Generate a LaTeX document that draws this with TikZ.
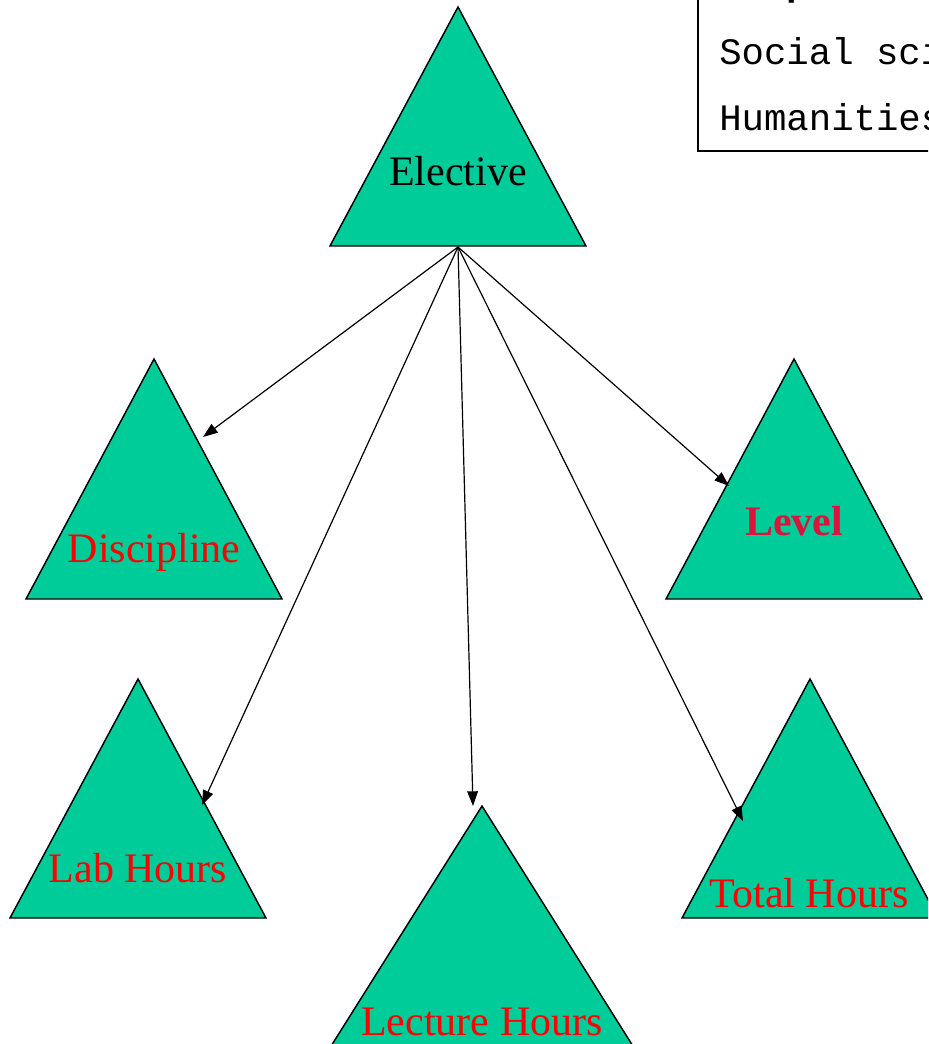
\documentclass[tikz,border=0pt]{standalone}
\usepackage{fontspec}
\setmainfont{Liberation Serif}
\newfontfamily\monofont{Liberation Mono}
\usetikzlibrary{arrows.meta}
\definecolor{tri}{HTML}{00CC99}
\definecolor{lvl}{HTML}{DC143C}
\tikzset{
  tribox/.style={fill=tri,draw=black,line width=1.1pt,line join=miter},
  lbl/.style={anchor=base,inner sep=0pt,font=\fontsize{31.5}{36}\selectfont},
  link/.style={draw=black,line width=0.9pt,-{Triangle[length=11pt,width=8pt]}}
}
\begin{document}
\begin{tikzpicture}[x=0.75pt,y=-0.75pt]
\useasboundingbox (0,0) rectangle (928,1044);
\clip (0,0) rectangle (928,1044);
\fill[white] (0,0) rectangle (928,1044);

% legend box at the top right
\draw[line width=1.1pt] (698,-20) -- (698,151) -- (960,151);
\node[anchor=base west,inner sep=0pt,font=\monofont\bfseries\fontsize{28}{32}\selectfont] (ttl) at (786,-4) {p};
\node[anchor=base west,inner sep=0pt,font=\monofont\fontsize{28}{32}\selectfont] (s1) at (719,65) {Social sciences};
\node[anchor=base west,inner sep=0pt,font=\monofont\fontsize{28}{32}\selectfont] (s2) at (719,131) {Humanities};

% triangles
\path[tribox] (458,7) -- (586,246) -- (330,246) -- cycle;
\path[tribox] (154,359) -- (282,599) -- (26,599) -- cycle;
\path[tribox] (794,359) -- (922,599) -- (666,599) -- cycle;
\path[tribox] (138,679) -- (266,918) -- (10,918) -- cycle;
\path[tribox] (810,679) -- (938,918) -- (682,918) -- cycle;
\path[tribox] (482,806) -- (648,1070) -- (316,1070) -- cycle;

% labels
\node[lbl] (elective) at (458,186) {Elective};
\node[lbl,text=red] (discipline) at (154,562) {Discipline};
\node[lbl,text=lvl,font=\fontsize{31.5}{36}\selectfont\bfseries] (level) at (794,535) {Level};
\node[lbl,text=red] (lab) at (138,882) {Lab Hours};
\node[lbl,text=red] (total) at (809,907) {Total Hours};
\node[lbl,text=red] (lecture) at (482,1035) {Lecture Hours};

% connector ends
\coordinate (src) at (458,247);
\coordinate (dDisc) at (203,437);
\coordinate (dLab) at (202,805);
\coordinate (dLect) at (473,806);
\coordinate (dTotal) at (743,821);
\coordinate (dLevel) at (729,486);

\draw[link] (src) -- (dDisc);
\draw[link] (src) -- (dLab);
\draw[link] (src) -- (dLect);
\draw[link] (src) -- (dTotal);
\draw[link] (src) -- (dLevel);
\end{tikzpicture}
\end{document}
